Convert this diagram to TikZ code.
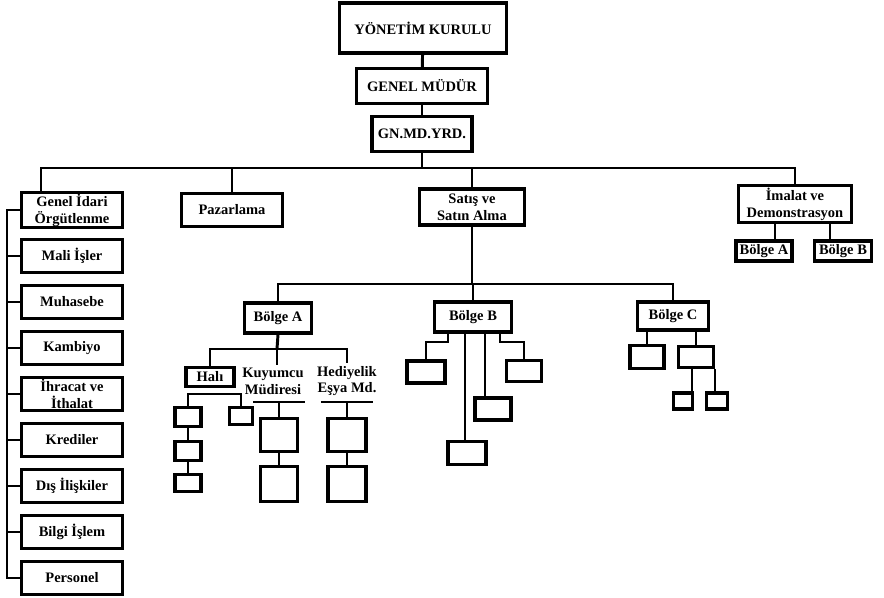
\documentclass[tikz,border=0pt]{standalone}
\usepackage{fontspec}
\setmainfont{Liberation Serif}
\usetikzlibrary{positioning}

\begin{document}
\begin{tikzpicture}[
    x=0.025cm, y=-0.025cm,
    line width=2.1pt,
    box/.style={rectangle, draw, line width=2.3pt, font=\fontsize{10.3}{12}\selectfont\bfseries, align=center, inner sep=1pt},
    unit/.style={box, minimum width=2.53cm, minimum height=0.83cm},
    lbl/.style={font=\fontsize{10.3}{12}\selectfont\bfseries, align=center, inner sep=1pt},
    blank/.style={rectangle, draw, line width=2.3pt, inner sep=0pt},
    bar/.style={inner sep=0pt, outer sep=0pt, minimum height=0pt},
]
\useasboundingbox (0,0) rectangle (884,598);

% top of the chart
\node[box, minimum width=4.18cm, minimum height=1.25cm] (yk) at (423,28) {YÖNETİM KURULU};
\node[box, minimum width=3.28cm, minimum height=0.88cm] (gm) at (422,86) {GENEL MÜDÜR};
\node[box, minimum width=2.5cm, minimum height=0.88cm] (yrd) at (422,134) {GN.MD.YRD.};
\coordinate (bus) at (422,168);
\coordinate (giox) at (41,168);

\draw (yk) -- (gm);
\draw (gm) -- (yrd);
\draw (yrd) -- (bus);

% first level
\node[unit] (gio) at (72,210) {Genel İdari\\Örgütlenme};
\node[unit] (paz) at (232,210) {Pazarlama};
\node[box, minimum width=2.63cm, minimum height=0.9cm] (sat) at (472,207) {Satış ve\\Satın Alma};
\node[box, minimum width=2.83cm, minimum height=0.93cm] (ima) at (795,204) {İmalat ve\\Demonstrasyon};

\draw (giox |- gio.north) -- (giox) -- (bus) -| (ima.north);
\draw (paz.north) -- (paz.north |- bus);
\draw (sat.north) -- (sat.north |- bus);

% left column
\foreach \name/\txt/\y in {mal/Mali İşler/256, muh/Muhasebe/302, kam/Kambiyo/348,
    ihr/{İhracat ve\\İthalat}/394, kre/Krediler/440, dis/Dış İlişkiler/486,
    bil/Bilgi İşlem/532, per/Personel/578}
    \node[unit] (\name) at (72,\y) {\txt};

\coordinate (spine) at (7,208);
\draw (gio.west) -- (gio.west -| spine) -- (spine |- per.west) -- (per.west);
\foreach \name in {mal,muh,kam,ihr,kre,dis,bil}
    \draw (\name.west) -- (\name.west -| spine);

% imalat
\node[box, minimum width=1.4cm, minimum height=0.5cm] (iba) at (764,251) {Bölge A};
\node[box, minimum width=1.42cm, minimum height=0.5cm] (ibb) at (843,251) {Bölge B};
\coordinate (imaa) at (775,0);
\coordinate (imab) at (830,0);
\draw (imaa |- ima.south) -- (imaa |- iba.north);
\draw (imab |- ima.south) -- (imab |- ibb.north);

% satis ve satin alma
\coordinate (sbus) at (472,284);
\node[box, minimum width=1.68cm, minimum height=0.75cm] (ba) at (278,318) {Bölge A};
\node[box, minimum width=1.93cm, minimum height=0.75cm] (bb) at (473,317) {Bölge B};
\node[box, minimum width=1.78cm, minimum height=0.7cm] (bc) at (673,316) {Bölge C};
\draw (sat.south) -- (sbus);
\draw (ba.north) |- (sbus) -| (bc.north);
\draw (bb.north) -- (bb.north |- sbus);

% bolge A
\coordinate (abus) at (277,349);
\node[box, minimum width=1.2cm, minimum height=0.47cm] (hali) at (210,377) {Halı};
\node[lbl] (kuy) at (273,381) {Kuyumcu\\Müdiresi};
\node[lbl] (hed) at (347,381) {Hediyelik\\Eşya Md.};
\draw (ba.south) -- (abus);
\draw (hali.north) |- (abus) -| (hed.north);
\draw (abus) -- (abus |- kuy.north);

\node[bar, minimum width=1.28cm] (kuyu) at (279,402) {};
\node[bar, minimum width=1.3cm] (hedu) at (347,402) {};
\draw (kuyu.west) -- (kuyu.east);
\draw (hedu.west) -- (hedu.east);

\node[blank, minimum width=0.93cm, minimum height=0.82cm] (k1) at (279,435) {};
\node[blank, minimum width=0.93cm, minimum height=0.88cm] (k2) at (279,484) {};
\node[blank, minimum width=0.95cm, minimum height=0.82cm] (h1) at (347,435) {};
\node[blank, minimum width=0.95cm, minimum height=0.88cm] (h2) at (347,484) {};
\draw (kuyu) -- (k1);
\draw (k1) -- (k2);
\draw (hedu) -- (h1);
\draw (h1) -- (h2);

\node[blank, minimum width=0.65cm, minimum height=0.47cm] (l1) at (188,417) {};
\node[blank, minimum width=0.65cm, minimum height=0.47cm] (l2) at (188,451) {};
\node[blank, minimum width=0.65cm, minimum height=0.42cm] (l3) at (188,483) {};
\node[blank, minimum width=0.58cm, minimum height=0.42cm] (r1) at (241,416) {};
\coordinate (hbus) at (188,394);
\draw (l1.north) -- (hbus) -| (r1.north);
\draw (l1) -- (l2);
\draw (l2) -- (l3);

% bolge B
\node[blank, minimum width=0.95cm, minimum height=0.55cm] (b1) at (426,372) {};
\node[blank, minimum width=0.88cm, minimum height=0.53cm] (b2) at (524,371) {};
\node[blank, minimum width=0.9cm, minimum height=0.55cm] (b3) at (493,409) {};
\node[blank, minimum width=0.95cm, minimum height=0.58cm] (b4) at (467,453) {};
\coordinate (bbl) at (448,342);
\coordinate (bbr) at (500,342);
\coordinate (bbm) at (485,0);
\coordinate (bbn) at (465,0);
\draw (bbl |- bb.south) -- (bbl) -| (b1.north);
\draw (bbr |- bb.south) -- (bbr) -| (b2.north);
\draw (bbm |- bb.south) -- (bbm |- b3.north);
\draw (bbn |- bb.south) -- (bbn |- b4.north);

% bolge C
\node[blank, minimum width=0.85cm, minimum height=0.57cm] (c1) at (647,357) {};
\node[blank, minimum width=0.88cm, minimum height=0.53cm] (c2) at (696,357) {};
\node[blank, minimum width=0.48cm, minimum height=0.4cm] (c3) at (683,401) {};
\node[blank, minimum width=0.52cm, minimum height=0.4cm] (c4) at (717,401) {};
\coordinate (cl) at (692,0);
\coordinate (cr) at (715,0);
\draw (c1.north |- bc.south) -- (c1.north);
\draw (c2.north |- bc.south) -- (c2.north);
\draw (cl |- c2.south) -- (cl |- c3.north);
\draw (cr |- c2.south) -- (cr |- c4.north);
\end{tikzpicture}
\end{document}
